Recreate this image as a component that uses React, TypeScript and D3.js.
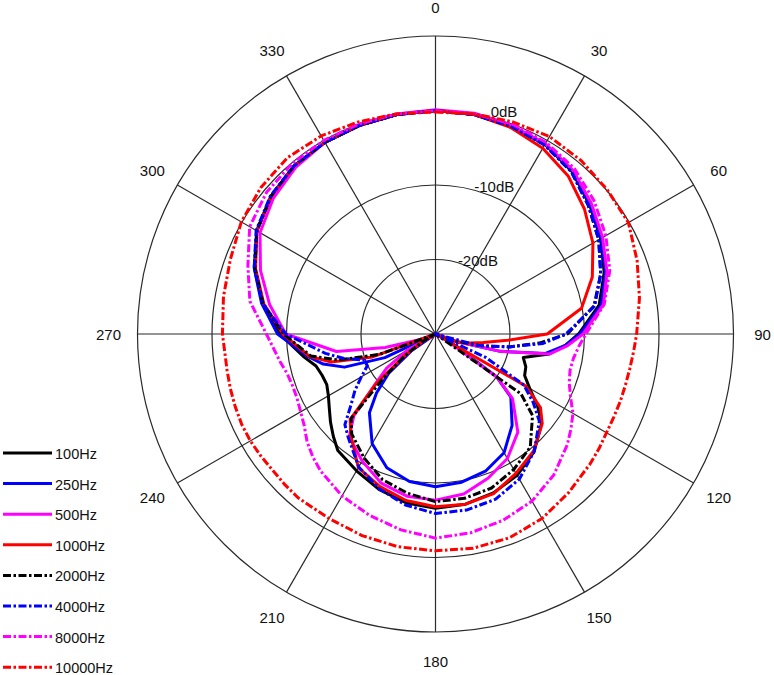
import { useEffect, useRef } from 'react';
import * as d3 from 'd3';

// polar angles (deg, clockwise from top) at which the responses were read
const ANGLES = [
  0, 10, 20, 30, 40, 50, 60, 70, 80, 90, 95, 100, 105, 110, 115, 120, 125, 130, 140, 150, 160, 170,
  180, 190, 200, 210, 220, 225, 230, 235, 240, 245, 250, 255, 260, 270, 280, 290, 300, 310, 320, 330,
  340, 350,
];

// relative level in dB for each frequency
const DB_100 = [
  0, -0.1, -0.3, -0.6, -1.5, -3.0, -4.4, -5.9, -7.7, -10.8, -12.5, -14.5, -17.8, -17.1, -16.8, -15.4,
  -13.3, -11.4, -9.4, -8.1, -7.3, -6.8, -6.6, -7.0, -7.8, -8.8, -9.6, -10.6, -11.6, -12.6, -13.4, -13.9,
  -13.8, -13.4, -12.1, -9.1, -6.5, -4.2, -2.3, -1.2, -0.5, -0.3, -0.2, -0.1,
];
const DB_250 = [
  0, -0.1, -0.3, -0.6, -1.4, -2.9, -4.3, -5.7, -7.4, -10.6, -12.5, -15.0, -21, -27, -30, -27, -20,
  -16.8, -14.0, -11.6, -10.4, -9.8, -9.5, -9.9, -10.9, -13.0, -16.2, -18.8, -21.8, -26, -30, -22.5, -17,
  -14.4, -12.6, -8.8, -6.3, -4.1, -2.3, -1.2, -0.5, -0.3, -0.2, -0.1,
];
const DB_500 = [
  0.1, 0.1, -0.2, -0.5, -1.3, -2.7, -4.1, -5.5, -7.1, -10.2, -12.2, -14.5, -21, -27, -30, -28, -20,
  -16.5, -12.8, -10.7, -9.4, -8.2, -7.7, -7.9, -8.7, -10.3, -12.0, -14.5, -19.3, -22, -25.5, -30, -28,
  -23, -16.5, -9.9, -7.4, -5.0, -2.8, -1.6, -0.8, -0.3, -0.1, 0,
];
const DB_1000 = [
  0, -0.1, -0.5, -1.2, -2.3, -3.9, -5.6, -7.6, -10.1, -15.0, -20.3, -23.5, -25.3, -27, -30, -16, -12.8,
  -11.3, -9.5, -8.4, -7.2, -6.8, -6.8, -7.3, -8.2, -9.3, -12.3, -13.8, -19.5, -25, -28, -30, -21, -15.5,
  -12.8, -9.5, -6.6, -4.3, -2.3, -1.2, -0.5, -0.3, -0.2, -0.1,
];
const DB_2000 = [
  0, -0.1, -0.3, -0.7, -1.6, -3.2, -4.7, -6.4, -8.4, -12.3, -16, -20, -24, -27.5, -30, -30, -16, -13.0,
  -10.2, -9.0, -8.0, -7.6, -7.5, -8.3, -9.2, -10.8, -12.5, -14, -21, -25, -28, -30, -22, -16.5, -13,
  -9.6, -6.5, -4.2, -2.3, -1.2, -0.5, -0.3, -0.2, -0.1,
];
const DB_4000 = [
  0, -0.1, -0.3, -0.7, -1.6, -3.2, -4.7, -6.4, -8.3, -12.5, -15.5, -20, -24, -30, -22.5, -16.3, -14,
  -11.8, -9.4, -7.5, -6.4, -6.0, -5.9, -6.7, -7.9, -9.4, -11.8, -12.8, -15.2, -16.8, -18.5, -19.9,
  -19.8, -17.3, -15.0, -9.9, -6.4, -4.1, -2.2, -1.1, -0.5, -0.3, -0.2, -0.1,
];
const DB_8000 = [
  0, 0, 0, -0.3, -1.0, -2.2, -3.6, -5.1, -7.0, -9.8, -10.7, -11.2, -11.3, -10.9, -10.0, -8.7, -7.8,
  -6.9, -5.3, -4.1, -3.4, -2.9, -2.6, -3.3, -4.1, -4.9, -6.0, -6.7, -7.5, -8.5, -9.1, -9.5, -9.6, -9.4,
  -8.8, -7.3, -4.7, -3.2, -1.2, -0.4, -0.1, 0, 0, 0,
];
const DB_10000 = [
  -0.2, 0, 0.3, 0.6, 0.4, 0.1, -0.1, -1.2, -2.2, -3.0, -3.3, -3.5, -3.6, -3.6, -3.6, -3.5, -3.2, -2.9,
  -2.2, -1.4, -0.9, -0.8, -0.9, -1.0, -1.2, -1.4, -1.3, -1.4, -1.5, -1.4, -1.3, -1.3, -1.4, -1.5, -1.6,
  -1.4, -1.1, -0.7, 0.1, 0.6, 0.9, 0.7, 0.3, 0,
];

const LABELS = ['100Hz', '250Hz', '500Hz', '1000Hz', '2000Hz', '4000Hz', '8000Hz', '10000Hz'];
const VALUES = [DB_100, DB_250, DB_500, DB_1000, DB_2000, DB_4000, DB_8000, DB_10000];
const COLORS = ['#000000', '#0000ff', '#ff00ff', '#ff0000', '#000000', '#0000ff', '#ff00ff', '#ff0000'];
const DASHED = [false, false, false, false, true, true, true, true];

const ANGLE_TICKS = [0, 30, 60, 90, 120, 150, 180, 210, 240, 270, 300, 330];
const RING_TICKS = [-20, -10, 0, 10];
const RING_LABELS = [
  { db: 0, text: '0dB' },
  { db: -10, text: '-10dB' },
  { db: -20, text: '-20dB' },
];

const FONT = '"Liberation Sans", Arial, sans-serif';
const DASH = '8,2.5,2.5,2.5';

export default function App() {
  const svgRef = useRef<SVGSVGElement>(null);

  useEffect(() => {
    if (!svgRef.current) return;
    const cx = 435.5;
    const cy = 334;
    const outer = 298;

    const svg = d3.select(svgRef.current);
    svg.selectAll('*').remove();

    const rScale = d3.scaleLinear().domain([-30, 10]).range([0, outer]).clamp(true);
    const rad = (deg: number) => (deg * Math.PI) / 180;

    const g = svg.append('g').attr('transform', `translate(${cx},${cy})`);

    // Grid rings
    g.append('g')
      .selectAll('circle')
      .data(RING_TICKS)
      .join('circle')
      .attr('r', d => rScale(d))
      .attr('fill', 'none')
      .attr('stroke', '#2a2a2a')
      .attr('stroke-width', 1.2);

    // Spokes
    g.append('g')
      .selectAll('line')
      .data(ANGLE_TICKS)
      .join('line')
      .attr('x1', 0).attr('y1', 0)
      .attr('x2', d => outer * Math.sin(rad(d)))
      .attr('y2', d => -outer * Math.cos(rad(d)))
      .attr('stroke', '#2a2a2a')
      .attr('stroke-width', 1.2);

    // Angle labels
    g.append('g')
      .selectAll('text')
      .data(ANGLE_TICKS)
      .join('text')
      .attr('x', d => (outer + 29) * Math.sin(rad(d)))
      .attr('y', d => -(outer + 29) * Math.cos(rad(d)))
      .attr('text-anchor', 'middle')
      .attr('dominant-baseline', 'central')
      .attr('font-size', '15px')
      .attr('font-family', FONT)
      .attr('fill', '#111')
      .text(d => `${d}`);

    // dB labels
    g.append('g')
      .selectAll('text')
      .data(RING_LABELS)
      .join('text')
      .attr('x', d => rScale(d.db) * 0.22 + 6)
      .attr('y', d => -rScale(d.db) + 6.5)
      .attr('font-size', '15px')
      .attr('font-family', FONT)
      .attr('fill', '#111')
      .text(d => d.text);

    // Curves
    const line = d3.lineRadial<number>()
      .angle((_, i) => rad(ANGLES[i]))
      .radius(d => rScale(d))
      .curve(d3.curveLinearClosed);

    VALUES.forEach((vals, i) => {
      g.append('path')
        .datum(vals)
        .attr('fill', 'none')
        .attr('stroke', COLORS[i])
        .attr('stroke-width', 3)
        .attr('stroke-linejoin', 'round')
        .attr('stroke-dasharray', DASHED[i] ? DASH : null)
        .attr('d', line);
    });

    // Legend
    const legend = svg.append('g').attr('transform', 'translate(3,453)');
    LABELS.forEach((label, i) => {
      const y = i * 30.6;
      legend.append('line')
        .attr('x1', 0).attr('x2', 49)
        .attr('y1', y).attr('y2', y)
        .attr('stroke', COLORS[i])
        .attr('stroke-width', 3)
        .attr('stroke-dasharray', DASHED[i] ? DASH : null);
      legend.append('text')
        .attr('x', 52).attr('y', y + 1)
        .attr('dominant-baseline', 'central')
        .attr('font-size', '14.5px')
        .attr('font-family', FONT)
        .attr('fill', '#111')
        .text(label);
    });
  }, []);

  return (
    <svg
      ref={svgRef}
      width={774}
      height={675}
      style={{ position: 'absolute', left: 0, top: 0, background: '#fff' }}
    />
  );
}
